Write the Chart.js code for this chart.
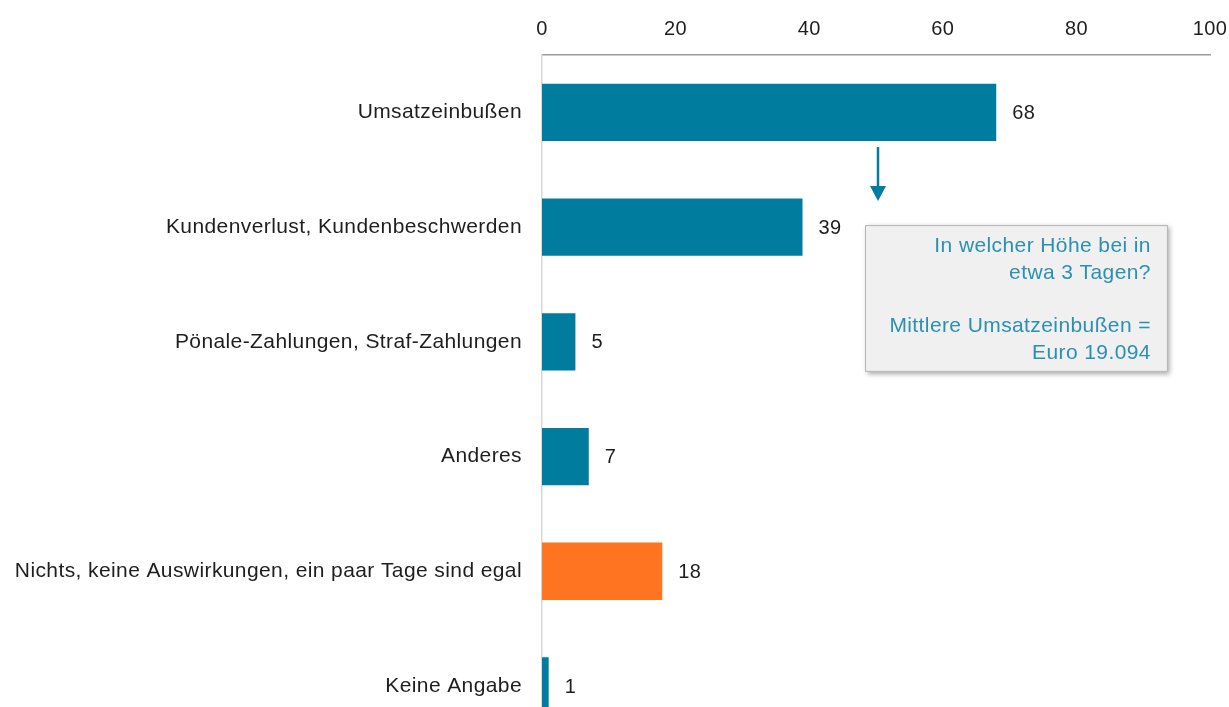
<!DOCTYPE html>
<html>
<head>
<meta charset="utf-8">
<script src="https://cdn.jsdelivr.net/npm/chart.js@4/dist/chart.umd.min.js"></script>
<style>
  html, body { margin: 0; padding: 0; background: #fff; overflow: hidden; }
  #wrap { width: 1229px; height: 707px; overflow: hidden; }
</style>
</head>
<body>
<div id="wrap">
  <canvas id="chart" width="1229" height="776"></canvas>
</div>
<script>
const categories = [
  "Umsatzeinbußen",
  "Kundenverlust, Kundenbeschwerden",
  "Pönale-Zahlungen, Straf-Zahlungen",
  "Anderes",
  "Nichts, keine Auswirkungen, ein paar Tage sind egal",
  "Keine Angabe"
];
const values = [68, 39, 5, 7, 18, 1];
const barColors = ["#007c9e", "#007c9e", "#007c9e", "#007c9e", "#ff7420", "#007c9e"];
const xTicks = [0, 20, 40, 60, 80, 100];
const calloutLines = ["In welcher Höhe bei in", "etwa 3 Tagen?", "", "Mittlere Umsatzeinbußen =", "Euro 19.094"];

const FONT = "Liberation Sans, Arial, sans-serif";
const SPACING = "0.4px";

// slightly wider text, like the original
const spacing = {
  id: "spacing",
  beforeDraw(chart) { chart.ctx.letterSpacing = SPACING; }
};

const valueLabels = {
  id: "valueLabels",
  afterDatasetsDraw(chart) {
    const ctx = chart.ctx;
    const meta = chart.getDatasetMeta(0);
    ctx.save();
    ctx.font = "20px " + FONT;
    ctx.fillStyle = "#1e1e1e";
    ctx.textAlign = "left";
    ctx.textBaseline = "middle";
    meta.data.forEach((bar, i) => {
      ctx.fillText(String(values[i]), bar.x + 16, bar.y + 1);
    });
    ctx.restore();
  }
};

const callout = {
  id: "callout",
  afterDraw(chart) {
    const ctx = chart.ctx;
    const x = chart.scales.x, y = chart.scales.y;
    const meta = chart.getDatasetMeta(0);
    const teal = "#007c9e";

    // arrow below the first bar
    const ax = x.getPixelForValue(50.3);
    const top = meta.data[0].y + meta.data[0].height / 2 + 6;
    const tip = top + 54;
    ctx.save();
    ctx.strokeStyle = teal;
    ctx.lineWidth = 2.5;
    ctx.beginPath();
    ctx.moveTo(ax, top);
    ctx.lineTo(ax, tip - 12);
    ctx.stroke();
    ctx.fillStyle = teal;
    ctx.beginPath();
    ctx.moveTo(ax - 8, tip - 15);
    ctx.lineTo(ax + 8, tip - 15);
    ctx.lineTo(ax, tip);
    ctx.closePath();
    ctx.fill();

    // box
    const left = x.getPixelForValue(48.35);
    const right = x.getPixelForValue(93.7);
    const bTop = y.getPixelForValue(1) - 2;
    const bBot = y.getPixelForValue(2) + 30;
    ctx.shadowColor = "rgba(0,0,0,0.35)";
    ctx.shadowBlur = 5;
    ctx.shadowOffsetX = 2;
    ctx.shadowOffsetY = 2;
    ctx.fillStyle = "#f0f0f0";
    ctx.fillRect(left, bTop, right - left, bBot - bTop);
    ctx.shadowColor = "transparent";
    ctx.strokeStyle = "#b4b4b4";
    ctx.lineWidth = 1;
    ctx.strokeRect(left + 0.5, bTop + 0.5, right - left - 1, bBot - bTop - 1);

    ctx.font = "21px " + FONT;
    ctx.fillStyle = "#2a90b4";
    ctx.textAlign = "right";
    ctx.textBaseline = "middle";
    calloutLines.forEach((line, i) => {
      ctx.fillText(line, right - 17, bTop + 21 + i * 26.8);
    });
    ctx.restore();
  }
};

new Chart(document.getElementById("chart").getContext("2d"), {
  type: "bar",
  data: {
    labels: categories,
    datasets: [{
      data: values,
      backgroundColor: barColors,
      barPercentage: 0.5,
      categoryPercentage: 1.0
    }]
  },
  options: {
    indexAxis: "y",
    responsive: false,
    animation: false,
    layout: { padding: 0 },
    plugins: {
      legend: { display: false },
      tooltip: { enabled: false }
    },
    scales: {
      x: {
        position: "top",
        min: 0,
        max: 100,
        afterBuildTicks(scale) {
          scale.ticks = xTicks.map(v => ({ value: v }));
        },
        afterFit(scale) {
          scale.height = 55;
          scale.paddingLeft = 0;
          scale.paddingRight = 19;
        },
        grid: { display: false, drawTicks: false },
        border: { display: true, color: "#9a9a9a", width: 1.5 },
        ticks: {
          padding: 14,
          color: "#1e1e1e",
          font: { family: FONT, size: 20 }
        }
      },
      y: {
        afterFit(scale) { scale.width = 542; },
        grid: { display: false, drawTicks: false },
        border: { display: true, color: "#d8d8d8", width: 1.5 },
        ticks: {
          padding: 20,
          color: "#1e1e1e",
          font: { family: FONT, size: 21 }
        }
      }
    }
  },
  plugins: [spacing, valueLabels, callout]
});
</script>
</body>
</html>
